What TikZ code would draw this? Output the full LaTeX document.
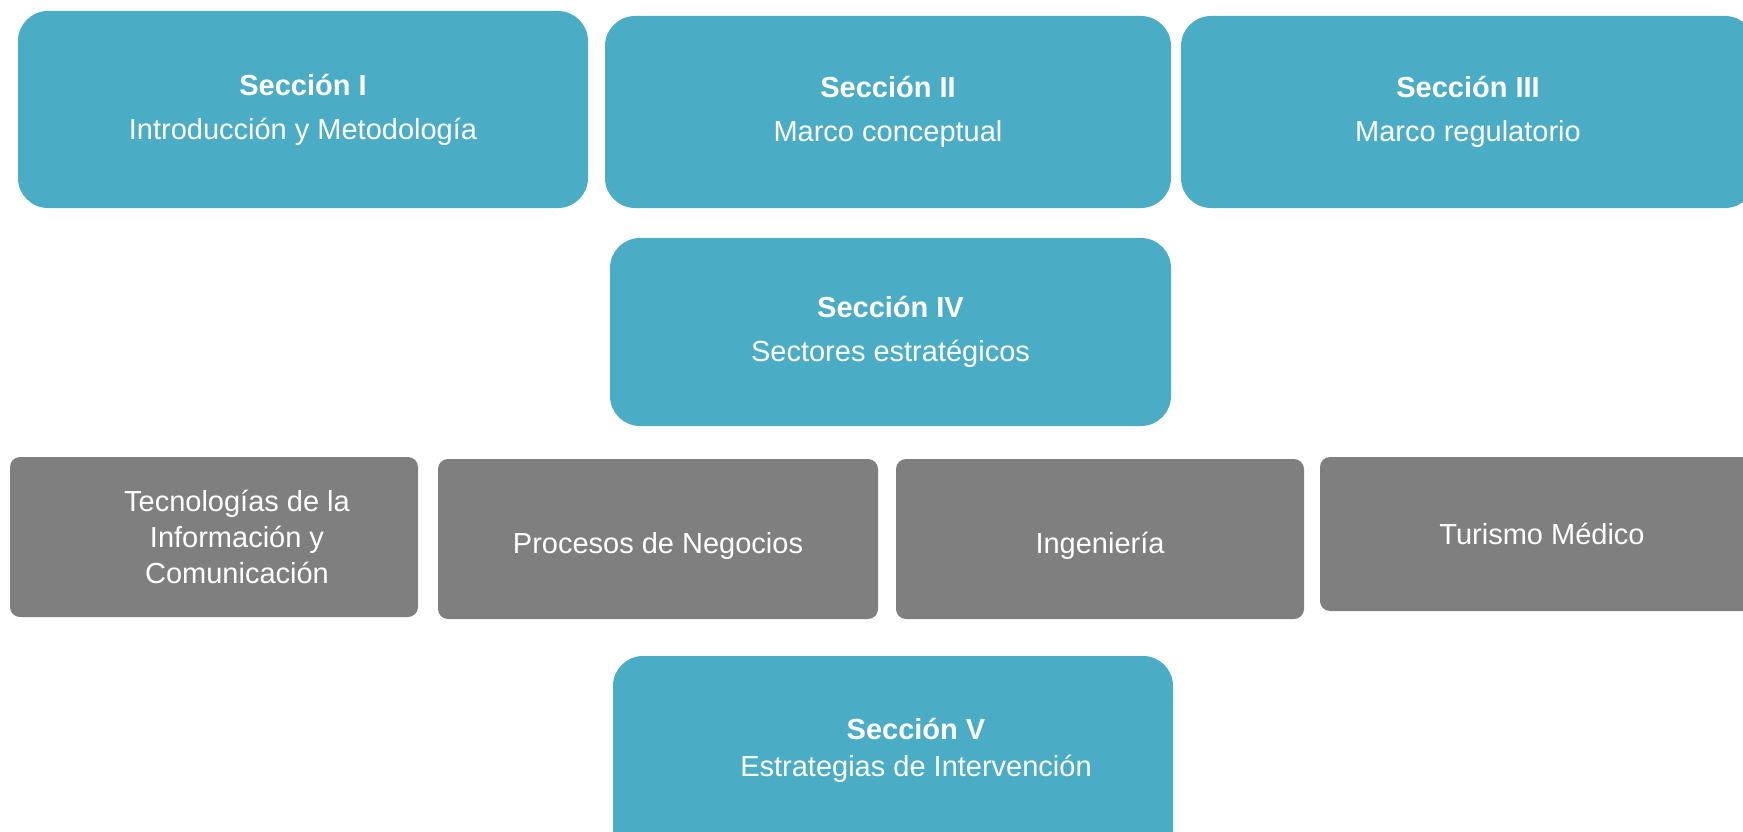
\documentclass[tikz,border=0pt]{standalone}
\usepackage{fontspec}
\setmainfont{Liberation Sans}
\definecolor{secteal}{HTML}{4BACC6}
\definecolor{secgrey}{HTML}{7F7F7F}
\begin{document}
\begin{tikzpicture}[x=1pt, y=-1pt,
			every node/.style = {align=center, text=white, inner sep=0pt},
			seccion/.style = {shape=rectangle, rounded corners=30pt,
				fill=secteal, font=\fontsize{29}{44}\selectfont},
			sector/.style = {shape=rectangle, rounded corners=10pt,
				fill=secgrey, font=\fontsize{29}{36}\selectfont}]
	\useasboundingbox (0,0) rectangle (1743,832);
	\clip (0,0) rectangle (1743,832);
	% secciones
	\node[seccion, minimum width=570pt, minimum height=197pt] (s1) at (303,109.5)
		{\textbf{Sección I}\\Introducción y Metodología};
	\node[seccion, minimum width=566pt, minimum height=192pt] (s2) at (888,112)
		{\textbf{Sección II}\\Marco conceptual};
	\node[seccion, minimum width=574pt, minimum height=192pt] (s3) at (1468,112)
		{\textbf{Sección III}\\Marco regulatorio};
	\node[seccion, minimum width=561pt, minimum height=188pt] (s4) at (890.5,332)
		{\textbf{Sección IV}\\Sectores estratégicos};
	% sectores
	\node[sector, minimum width=408pt, minimum height=160pt] (tic) at (214,537) {};
	\node[font=\fontsize{29}{36}\selectfont] (tictxt) at ([xshift=23pt]tic.center)
		{Tecnologías de la\\Información y\\Comunicación};
	\node[sector, minimum width=440pt, minimum height=160pt,
		text height=35pt, text depth=6pt] (proc) at (658,539)
		{Procesos de Negocios};
	\node[sector, minimum width=408pt, minimum height=160pt,
		text height=35pt, text depth=6pt] (ing) at (1100,539)
		{Ingeniería};
	\node[sector, minimum width=444pt, minimum height=154pt] (tur) at (1542,534)
		{Turismo Médico};
	% estrategias
	\node[seccion, minimum width=560pt, minimum height=210pt] (s5) at (893,761) {};
	\node[font=\fontsize{29}{37}\selectfont] (s5txt) at ([xshift=23pt, yshift=11pt]s5.center)
		{\textbf{Sección V}\\Estrategias de Intervención};
\end{tikzpicture}
\end{document}
